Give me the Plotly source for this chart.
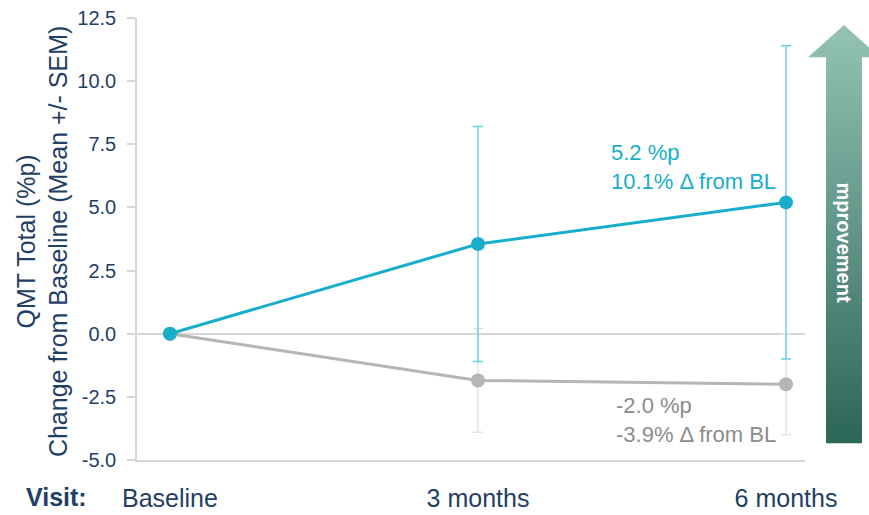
import plotly.graph_objects as go

# Visits (months since baseline) and their labels
visit_months = [0, 3, 6]
visit_labels = ["Baseline", "3 months", "6 months"]

# QMT Total change from baseline (%p): mean and SEM per visit
treated_mean = [0.0, 3.55, 5.2]
treated_sem = [0.0, 4.65, 6.2]
control_mean = [0.0, -1.85, -2.0]
control_sem = [0.0, 2.05, 2.0]

# Relative change from baseline at the last visit (%)
treated_pct_change = 10.1
control_pct_change = -3.9

y_ticks = [-5.0, -2.5, 0.0, 2.5, 5.0, 7.5, 10.0, 12.5]

TEAL = "#17aecb"
TEAL_ERR = "#6fcfe2"
GREY = "#b5b5b5"
GREY_ERR = "#e3e3e3"
NAVY = "#1f3f66"
AXIS_GREY = "#d6d6d6"

W, H = 869, 515
M_L, M_R, M_T, M_B = 137, 0, 18, 55
plot_w = W - M_L - M_R
plot_h = H - M_T - M_B
main_right = (805 - M_L) / plot_w
arrow_left = (808 - M_L) / plot_w

fig = go.Figure()

fig.add_trace(go.Scatter(
    x=visit_months, y=control_mean, mode="lines+markers",
    line=dict(color=GREY, width=3),
    marker=dict(color=GREY, size=14),
    error_y=dict(type="data", array=control_sem, color=GREY_ERR,
                 thickness=1.5, width=5),
    showlegend=False, hoverinfo="skip",
))
fig.add_trace(go.Scatter(
    x=visit_months, y=treated_mean, mode="lines+markers",
    line=dict(color=TEAL, width=3),
    marker=dict(color=TEAL, size=14),
    error_y=dict(type="data", array=treated_sem, color=TEAL_ERR,
                 thickness=1.5, width=5),
    showlegend=False, hoverinfo="skip",
))

# "Improvement" arrow drawn in its own unit-square axes on the right
arrow_x = [0.59, 1.18, 0.885, 0.885, 0.295, 0.295, 0.0, 0.59]
arrow_y = [0.984, 0.911, 0.911, 0.038, 0.038, 0.911, 0.911, 0.984]
fig.add_trace(go.Scatter(
    x=arrow_x, y=arrow_y, xaxis="x2", yaxis="y2",
    mode="lines", line=dict(width=0, color="rgba(0,0,0,0)"),
    fill="toself",
    fillgradient=dict(type="vertical", start=0.038, stop=0.984,
                      colorscale=[[0, "#2c6658"], [1, "#94c3b5"]]),
    showlegend=False, hoverinfo="skip",
))

fig.update_layout(
    width=W, height=H,
    margin=dict(l=M_L, r=M_R, t=M_T, b=M_B, autoexpand=False),
    paper_bgcolor="white", plot_bgcolor="white",
    font=dict(family="Liberation Sans, Arial, sans-serif", color=NAVY),
    xaxis=dict(
        domain=[0, main_right], range=[-0.321, 6.185],
        tickvals=visit_months, ticktext=visit_labels,
        tickfont=dict(size=25, color=NAVY),
        ticks="", ticklabelstandoff=15,
        showline=True, linecolor=AXIS_GREY, linewidth=1.5,
        showgrid=False, zeroline=False, fixedrange=True, automargin=False,
    ),
    yaxis=dict(
        range=[-5, 12.5],
        tickvals=y_ticks, ticktext=[f"{v:.1f}" for v in y_ticks],
        tickfont=dict(size=20, color=NAVY),
        ticks="outside", ticklen=8, tickcolor=AXIS_GREY, tickwidth=1.5,
        ticklabelstandoff=7,
        showline=True, linecolor=AXIS_GREY, linewidth=1.5,
        showgrid=False, zeroline=True, zerolinecolor=AXIS_GREY,
        zerolinewidth=1.5, fixedrange=True, automargin=False,
    ),
    xaxis2=dict(domain=[arrow_left, 1], range=[0, 1], visible=False,
                anchor="y2", fixedrange=True),
    yaxis2=dict(domain=[0, 1], range=[0, 1], visible=False,
                anchor="x2", fixedrange=True),
)

annotations = [
    # y-axis title
    dict(text="QMT Total (%p)<br>Change from Baseline (Mean +/- SEM)",
         xref="paper", yref="paper", x=(42 - M_L) / plot_w, y=0.493,
         xanchor="center", yanchor="middle", textangle=-90, showarrow=False,
         font=dict(size=25, color=NAVY)),
    # x-axis caption
    dict(text="<b>Visit:</b>", xref="paper", yref="paper",
         x=(24 - M_L) / plot_w, y=(460 - 497) / plot_h,
         xanchor="left", yanchor="middle", showarrow=False,
         font=dict(size=25, color=NAVY)),
    # value labels at the last visit
    dict(text=f"{treated_mean[-1]:.1f} %p<br>{treated_pct_change:.1f}% Δ from BL",
         x=visit_months[-1], y=treated_mean[-1], xref="x", yref="y",
         xanchor="right", yanchor="bottom", align="left",
         xshift=-8, yshift=6, showarrow=False,
         font=dict(size=22, color=TEAL)),
    dict(text=f"{control_mean[-1]:.1f} %p<br>{control_pct_change:.1f}% Δ from BL",
         x=visit_months[-1], y=control_mean[-1], xref="x", yref="y",
         xanchor="right", yanchor="top", align="left",
         xshift=-8, yshift=-7, showarrow=False,
         font=dict(size=22, color="#8c8c8c")),
    # arrow label
    dict(text="<b>mprovement</b>", xref="x2", yref="y2", x=0.59, y=0.492,
         xanchor="center", yanchor="middle", textangle=90, showarrow=False,
         font=dict(size=20, color="white")),
]
fig.update_layout(annotations=annotations)

fig.write_html("out.html")
